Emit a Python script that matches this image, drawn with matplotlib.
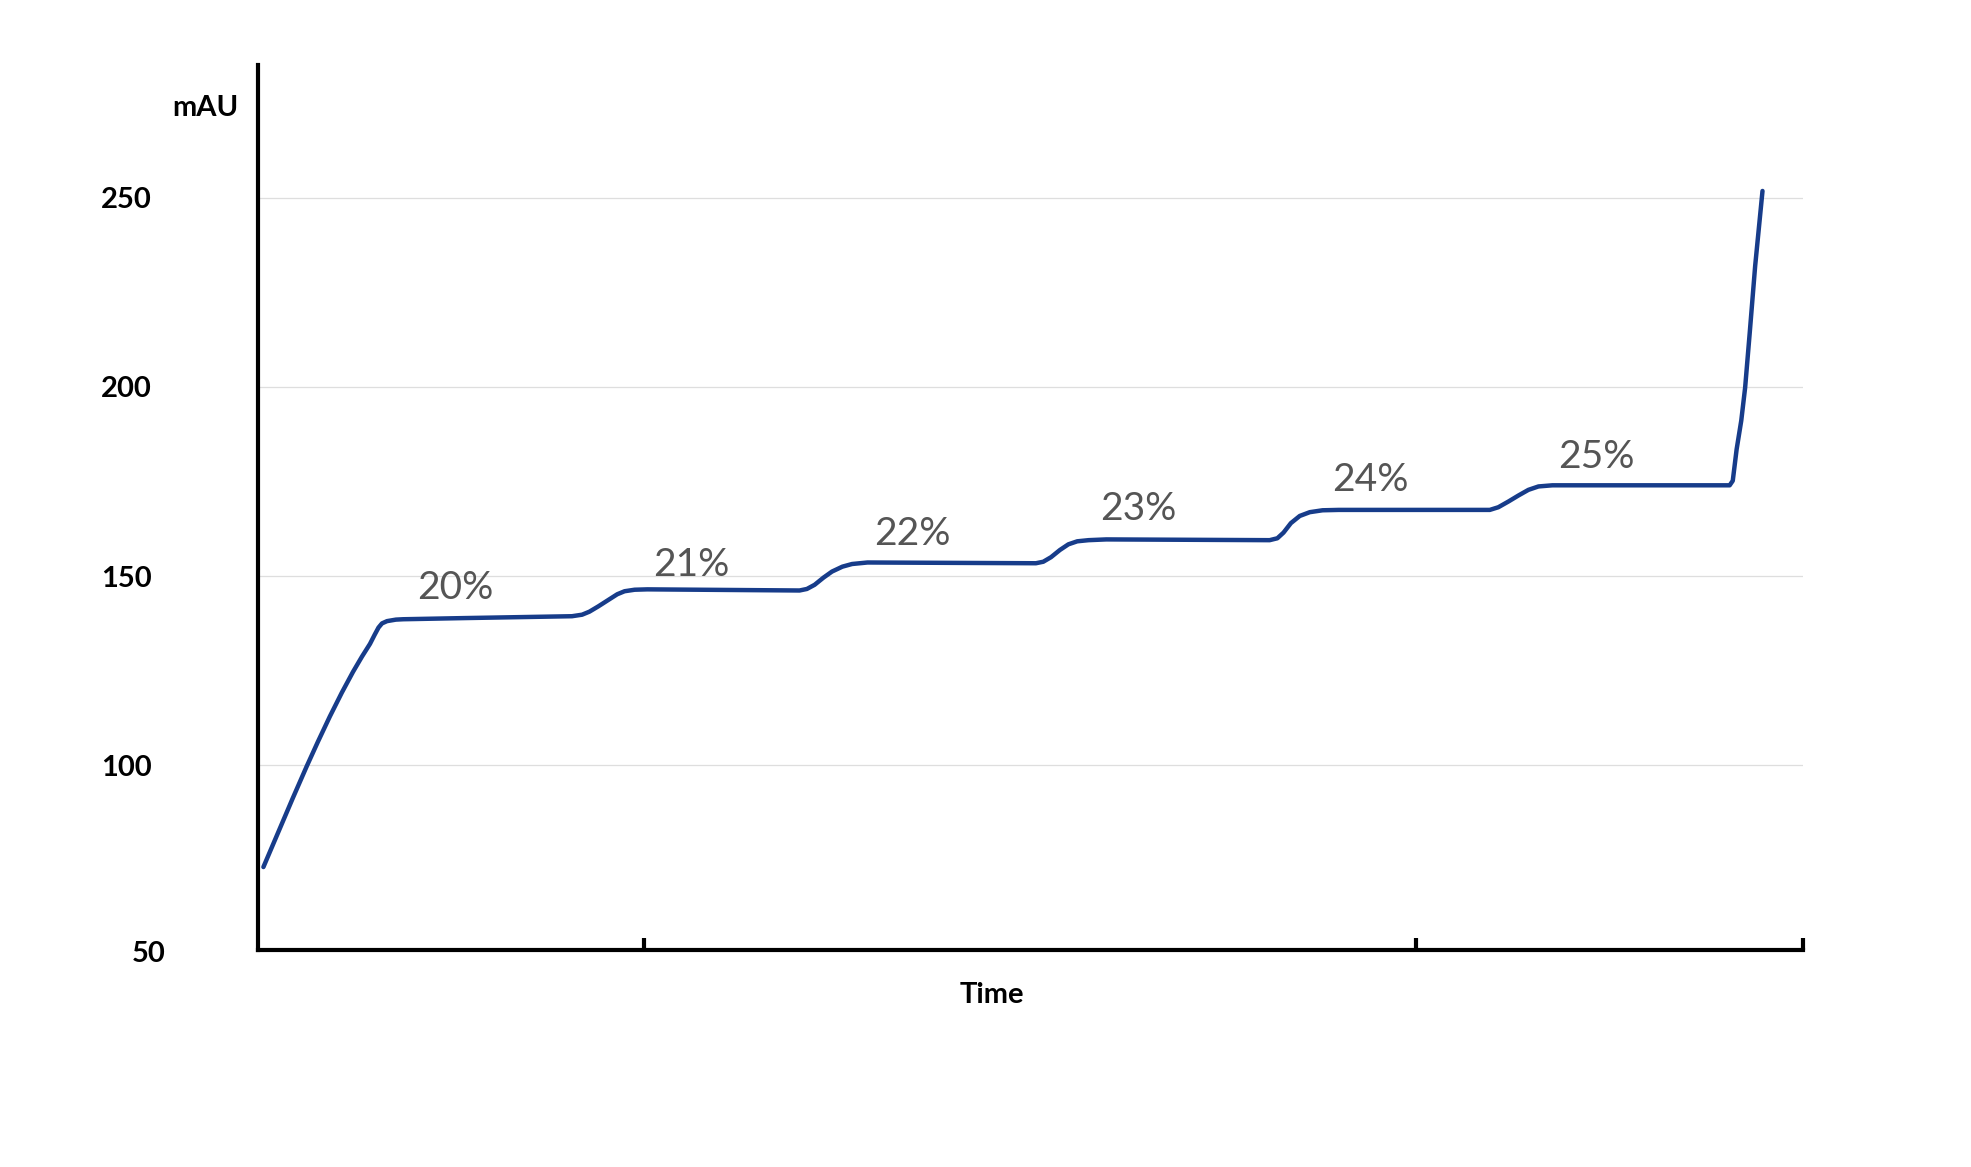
import matplotlib
matplotlib.use("Agg")
import matplotlib.pyplot as plt
import matplotlib.transforms as mtransforms

# ---- data ----
time = [0.015, 0.058, 0.091, 0.127, 0.156, 0.187, 0.218, 0.247, 0.270, 0.291,
        0.303, 0.313, 0.322, 0.335, 0.358, 0.377, 0.532, 0.814, 0.840, 0.859,
        0.882, 0.908, 0.931, 0.950, 0.976, 1.009, 1.403, 1.422, 1.442, 1.465,
        1.487, 1.514, 1.539, 1.579, 2.015, 2.034, 2.054, 2.077, 2.099, 2.122,
        2.151, 2.197, 2.620, 2.640, 2.656, 2.675, 2.698, 2.724, 2.757, 2.799,
        3.190, 3.212, 3.238, 3.264, 3.290, 3.316, 3.352, 3.811, 3.819, 3.829,
        3.841, 3.851, 3.863, 3.877, 3.896]
mau = [73.1, 83.4, 91.3, 99.7, 106.2, 112.9, 119.2, 124.7, 128.7, 132.1,
       134.5, 136.4, 137.5, 138.1, 138.5, 138.6, 138.9, 139.4, 139.8, 140.6,
       142.0, 143.7, 145.2, 146.0, 146.4, 146.5, 146.2, 146.6, 147.7, 149.6,
       151.2, 152.5, 153.2, 153.6, 153.4, 153.8, 155.0, 156.9, 158.4, 159.2,
       159.5, 159.7, 159.5, 160.0, 161.5, 164.0, 165.9, 166.9, 167.4, 167.5,
       167.5, 168.2, 169.7, 171.3, 172.8, 173.7, 174.0, 174.0, 175.2, 183.5,
       191.1, 199.8, 214.4, 232.0, 251.8]

step_labels = ["20%", "21%", "22%", "23%", "24%", "25%"]
step_label_x = [0.511, 1.123, 1.696, 2.279, 2.880, 3.466]
step_label_y = [146.9, 152.9, 161.2, 167.8, 175.5, 181.5]

ytick_values = [100, 150, 200, 250]
ytick_labels = ["100", "150", "200", "250"]
xtick_values = [1, 3, 4]

FONT = "Lato"
LINE_COLOR = "#173c8a"

fig = plt.figure(figsize=(19.71, 11.67), dpi=100)
ax = fig.add_axes([0.1307, 0.1857, 0.9146 - 0.1307, 0.944 - 0.1857])

ax.plot(time, mau, color=LINE_COLOR, lw=3.2, solid_capstyle="round",
        solid_joinstyle="round", zorder=3)

ax.set_xlim(0, 4)
ax.set_ylim(51.1, 285)

for s in ["top", "right"]:
    ax.spines[s].set_visible(False)
for s in ["left", "bottom"]:
    ax.spines[s].set_linewidth(3)
    ax.spines[s].set_color("black")
    ax.spines[s].set_capstyle("projecting")

ax.set_yticks(ytick_values)
ax.set_yticklabels(ytick_labels)
ax.tick_params(axis="y", length=0, pad=113, labelsize=21)
for lab in ax.get_yticklabels():
    lab.set_ha("left")
    lab.set_fontfamily(FONT)
    lab.set_fontweight("bold")
ax.yaxis.grid(True, color="#dedede", lw=0.9)
ax.set_axisbelow(True)

ax.set_xticks(xtick_values)
ax.set_xticklabels([])
ax.tick_params(axis="x", direction="in", length=9, width=3, color="black")

trans = mtransforms.blended_transform_factory(ax.transAxes, ax.transData)
ax.text(-0.0813, 50, "50", transform=trans, ha="left", va="center",
        fontsize=21, fontweight="bold", family=FONT, clip_on=False)

ax.text(-0.0122, 273.6, "mAU", transform=trans, ha="right", va="center",
        fontsize=21, fontweight="bold", family=FONT, clip_on=False)

ax.text(0.475, -0.05, "Time", transform=ax.transAxes, ha="center", va="center",
        fontsize=21, fontweight="bold", family=FONT)

for lab, lx, ly in zip(step_labels, step_label_x, step_label_y):
    ax.text(lx, ly, lab, ha="center", va="center", fontsize=28,
            color="#555555", family=FONT, fontweight="normal")

fig.savefig("out.png", dpi=100, facecolor="white")
